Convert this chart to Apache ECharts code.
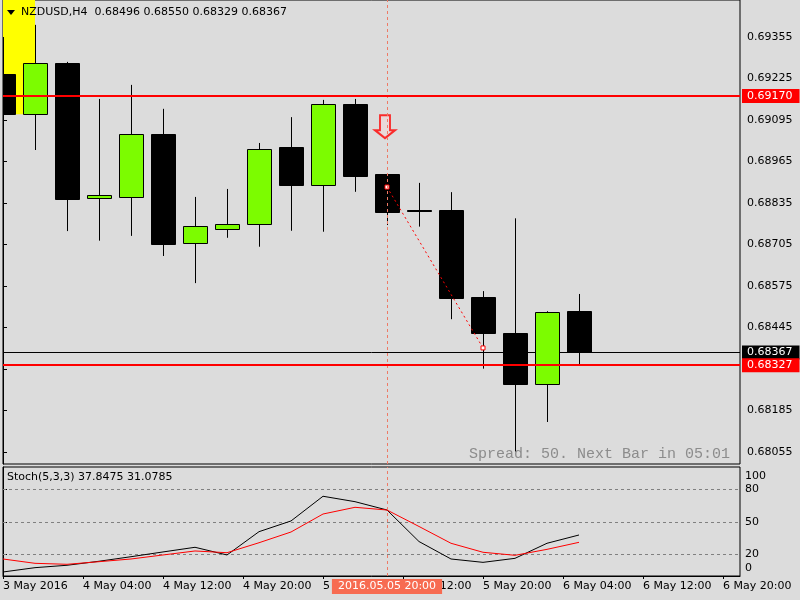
<!DOCTYPE html>
<html>
<head>
<meta charset="utf-8">
<title>NZDUSD,H4</title>
<script src="https://cdn.jsdelivr.net/npm/echarts@6/dist/echarts.min.js"></script>
<style>
html, body { margin: 0; padding: 0; background: #dcdcdc; }
#chart { width: 800px; height: 600px; }
</style>
</head>
<body>
<div id="chart"></div>
<script>
// H4 bars, first one is cut by the left edge
const opens  = [0.69239, 0.69113, 0.69274, 0.68849, 0.68855, 0.69051, 0.68708, 0.68753, 0.68768, 0.69009, 0.68889, 0.69145, 0.68926, 0.68812, 0.68813, 0.68541, 0.68427, 0.68267, 0.68496];
const closes = [0.69113, 0.69274, 0.68848, 0.68859, 0.69051, 0.68707, 0.68762, 0.68768, 0.69003, 0.68889, 0.69144, 0.68921, 0.68808, 0.68810, 0.68538, 0.68429, 0.68266, 0.68493, 0.68367];
const highs  = [0.69355, 0.69393, 0.69277, 0.69161, 0.69205, 0.69130, 0.68854, 0.68879, 0.69023, 0.69104, 0.69158, 0.69161, 0.68926, 0.68898, 0.68869, 0.68559, 0.68787, 0.68496, 0.68550];
const lows   = [0.69095, 0.69001, 0.68747, 0.68717, 0.68732, 0.68669, 0.68584, 0.68726, 0.68698, 0.68748, 0.68745, 0.68870, 0.68766, 0.68761, 0.68471, 0.68316, 0.68056, 0.68149, 0.68329];

// Stoch(5,3,3)
const stochMain   = [3.7, 7.7, 9.9, 13.6, 17.8, 22.2, 26.5, 19.4, 40.9, 50.8, 73.6, 68.6, 60.9, 31.8, 15.7, 12.6, 16.3, 30.2, 37.8475];
const stochSignal = [15.7, 11.7, 10.8, 13.2, 15.7, 19.4, 23.1, 21.5, 30.7, 40.6, 57.2, 63.4, 60.9, 45.7, 30.2, 21.9, 19.1, 24.6, 31.0785];

const priceTicks = [0.68055, 0.68185, 0.68315, 0.68445, 0.68575, 0.68705, 0.68835, 0.68965, 0.69095, 0.69225, 0.69355];
const stochTicks = [0, 20, 50, 80, 100];
const stochLevels = [20, 50, 80];
const timeLabels = ['3 May 2016', '4 May 04:00', '4 May 12:00', '4 May 20:00', '5 May 04:00', '5 May 12:00', '5 May 20:00', '6 May 04:00', '6 May 12:00', '6 May 20:00'];
const labelStep = 2.5; // bars between time labels

const resistance = 0.69170;
const support = 0.68327;
const bid = 0.68367;
const tradeLine = [[12, 0.68885], [15, 0.68381]];
const sellArrow = [[12, 0.69074]];
const yellowZone = { from: 0, to: 1, low: 0.69113 };
const cursorBar = 12;
const cursorTime = '2016.05.05 20:00';

var FONT = 'DejaVu Sans';
var BG = '#dcdcdc';
var xMax = 737 / 32;

var myChart = echarts.init(document.getElementById('chart'));

var candles = opens.map(function (o, i) { return [i, o, closes[i], lows[i], highs[i]]; });
var last = candles.length - 1;

function renderCandle(params, api) {
    var x = api.value(0);
    var o = api.coord([x, api.value(1)]);
    var c = api.coord([x, api.value(2)]);
    var lo = api.coord([x, api.value(3)]);
    var hi = api.coord([x, api.value(4)]);
    var cx = Math.round(o[0]) + 0.5;
    var top = Math.round(Math.min(o[1], c[1])) + 0.5;
    var h = Math.max(Math.round(Math.abs(o[1] - c[1])), 1);
    var up = api.value(2) > api.value(1);
    return {
        type: 'group',
        children: [
            { type: 'line', shape: { x1: cx, y1: hi[1], x2: cx, y2: lo[1] }, style: { stroke: '#000', lineWidth: 1 } },
            { type: 'rect', shape: { x: cx - 12, y: top, width: 24, height: h }, style: { fill: up ? '#7cfc00' : '#000', stroke: '#000', lineWidth: 1 } }
        ]
    };
}

var priceLabel = {
    show: true,
    position: 'end',
    distance: 2,
    color: '#fff',
    fontFamily: FONT,
    fontSize: 11,
    lineHeight: 13,
    padding: [1, 7, 0, 5],
    formatter: function (p) { return p.value.toFixed(5); }
};

var option = {
    backgroundColor: BG,
    animation: false,
    grid: [
        { left: 3, right: 60, top: 0, height: 464, show: true, backgroundColor: BG, borderColor: '#000', borderWidth: 1 },
        { left: 3, right: 60, top: 467, height: 109, show: true, backgroundColor: BG, borderColor: '#000', borderWidth: 1 }
    ],
    xAxis: [
        { type: 'value', gridIndex: 0, min: 0, max: xMax, show: false },
        {
            type: 'value', gridIndex: 1, min: 0, max: xMax,
            axisLine: { lineStyle: { color: '#000' } },
            axisTick: { length: 3, lineStyle: { color: '#000' }, customValues: timeLabels.map(function (t, i) { return i * labelStep; }) },
            axisLabel: {
                customValues: timeLabels.map(function (t, i) { return i * labelStep; }),
                formatter: function (v) { return timeLabels[Math.round(v / labelStep)]; },
                align: 'left', margin: 5, color: '#000', fontFamily: FONT, fontSize: 11
            },
            splitLine: { show: false }
        }
    ],
    yAxis: [
        {
            type: 'value', gridIndex: 0, position: 'right', min: 0.680174, max: 0.694709,
            axisLine: { show: true, lineStyle: { color: '#000' } },
            axisTick: { show: true, length: 4, lineStyle: { color: '#000' }, customValues: priceTicks },
            axisLabel: {
                customValues: priceTicks,
                formatter: function (v) { return v.toFixed(5); },
                margin: 7, color: '#000', fontFamily: FONT, fontSize: 11
            },
            splitLine: { show: false }
        },
        {
            type: 'value', gridIndex: 1, position: 'right', min: 0, max: 100.6,
            axisLine: { show: true, lineStyle: { color: '#000' } },
            axisTick: { show: true, length: 4, lineStyle: { color: '#000' }, customValues: stochLevels },
            axisLabel: {
                customValues: stochTicks,
                formatter: function (v) {
                    if (v === 100) return '{dn|100}';
                    if (v === 0) return '{up|0}';
                    return String(v);
                },
                rich: {
                    dn: { padding: [17, 0, 0, 0], fontFamily: FONT, fontSize: 11, color: '#000' },
                    up: { padding: [0, 0, 16, 0], fontFamily: FONT, fontSize: 11, color: '#000' }
                },
                margin: 5, color: '#000', fontFamily: FONT, fontSize: 11
            },
            splitLine: { show: false }
        }
    ],
    series: [
        {
            type: 'custom', name: 'NZDUSD', xAxisIndex: 0, yAxisIndex: 0, z: 2, clip: true,
            renderItem: renderCandle,
            encode: { x: 0, y: [1, 2, 3, 4] },
            data: candles,
            // yellow box and bid line sit under the candles
            markArea: {
                z: 1, silent: true,
                itemStyle: { color: '#ffff00' },
                data: [[{ xAxis: yellowZone.from, yAxis: yellowZone.low }, { xAxis: yellowZone.to, yAxis: 0.6948 }]]
            },
            markLine: {
                z: 1, silent: true, symbol: 'none', precision: 5,
                lineStyle: { color: '#000', width: 1, type: 'solid' },
                label: Object.assign({}, priceLabel, { backgroundColor: '#000' }),
                data: [{ yAxis: bid }]
            }
        },
        {
            type: 'line', xAxisIndex: 0, yAxisIndex: 0, z: 4,
            data: tradeLine,
            symbol: 'rect', symbolSize: 4,
            itemStyle: { color: '#fff', borderColor: '#ff0000', borderWidth: 1 },
            lineStyle: { color: '#ff0000', width: 1, type: [2, 3] },
            markLine: {
                silent: true, symbol: 'none', precision: 5,
                lineStyle: { color: '#ff0000', width: 2, type: 'solid' },
                label: Object.assign({}, priceLabel, { backgroundColor: '#ff0000' }),
                data: [
                    { xAxis: cursorBar, label: { show: false }, lineStyle: { color: '#ee7a66', width: 1, type: [3, 3] } },
                    { yAxis: resistance },
                    { yAxis: support }
                ]
            }
        },
        {
            type: 'scatter', xAxisIndex: 0, yAxisIndex: 0, z: 4,
            data: sellArrow,
            symbol: 'path://M5,0 L15,0 L15,15 L20,15 L10,23 L0,15 L5,15 Z',
            symbolSize: [20, 23],
            symbolOffset: [-2, 0],
            itemStyle: { color: '#ecd8d8', borderColor: '#ff0000', borderWidth: 2 }
        },
        {
            type: 'line', name: 'Main', xAxisIndex: 1, yAxisIndex: 1, z: 3,
            data: stochMain.map(function (v, i) { return [i, v]; }),
            showSymbol: false, lineStyle: { color: '#000', width: 1 },
            markLine: {
                silent: true, symbol: 'none',
                lineStyle: { color: '#ee7a66', width: 1, type: [3, 3] },
                label: {
                    show: true, position: 'start', distance: 3,
                    formatter: cursorTime,
                    backgroundColor: '#f76b51', color: '#fff',
                    fontFamily: FONT, fontSize: 11, lineHeight: 13, padding: [1, 6, 1, 6]
                },
                data: [{ xAxis: cursorBar }]
            }
        },
        {
            type: 'line', name: 'Signal', xAxisIndex: 1, yAxisIndex: 1, z: 3,
            data: stochSignal.map(function (v, i) { return [i, v]; }),
            showSymbol: false, lineStyle: { color: '#ff0000', width: 1 },
            markLine: {
                z: 1, silent: true, symbol: 'none', label: { show: false },
                lineStyle: { color: '#808080', width: 1, type: [3, 3] },
                data: stochLevels.map(function (v) { return { yAxis: v }; })
            }
        }
    ],
    graphic: [
        { type: 'polygon', z: 100, shape: { points: [[7, 10], [15, 10], [11, 15]] }, style: { fill: '#000' } },
        {
            type: 'text', z: 100, x: 21, y: 12.5,
            style: {
                text: 'NZDUSD,H4  ' + [opens[last], highs[last], lows[last], closes[last]].map(function (v) { return v.toFixed(5); }).join(' '),
                font: '11px "DejaVu Sans"', fill: '#000', verticalAlign: 'middle'
            }
        },
        {
            type: 'text', z: 100, x: 7, y: 477,
            style: {
                text: 'Stoch(5,3,3) ' + stochMain[last].toFixed(4) + ' ' + stochSignal[last].toFixed(4),
                font: '11px "DejaVu Sans"', fill: '#000', verticalAlign: 'middle'
            }
        },
        {
            type: 'text', z: 100, x: 469, y: 454,
            style: { text: 'Spread: 50. Next Bar in 05:01', font: '15px "Liberation Mono"', fill: '#8c8c8c', verticalAlign: 'middle' }
        }
    ]
};

myChart.setOption(option);
</script>
</body>
</html>
